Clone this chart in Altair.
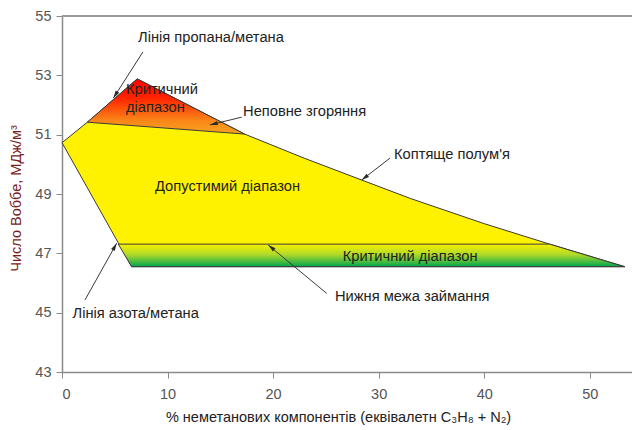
import math
import altair as alt
import pandas as pd

# ---- data ----
# region outlines: x = % non-methane components, y = Wobbe number (MJ/m3)
yellow_x = [0.0, 2.4, 7.13, 17.3, 23.0, 28.4, 33.0, 40.0, 46.2, 53.3, 6.6]
yellow_y = [50.73, 51.42, 52.88, 51.02, 50.2, 49.47, 48.85, 48.0, 47.31, 46.55, 46.55]
red_x = [2.4, 7.13, 17.3]
red_y = [51.42, 52.88, 51.02]
green_x = [5.33, 46.2, 53.3, 6.6]
green_y = [47.31, 47.31, 46.55, 46.55]

# annotation arrows (start -> tip)
arrow_x0 = [7.67, 17.02, 31.07, 25.08, 2.18]
arrow_y0 = [53.79, 51.59, 50.21, 45.65, 45.43]
arrow_x1 = [4.86, 14.02, 28.39, 19.54, 5.18]
arrow_y1 = [52.23, 51.33, 49.47, 47.28, 47.34]

# annotation labels
label_text = ["Лінія пропана/метана", "Критичний", "діапазон", "Неповне згоряння",
              "Коптяще полум'я", "Допустимий діапазон", "Критичний діапазон",
              "Нижня межа займання", "Лінія азота/метана"]
label_x = [7.2, 6.06, 6.06, 17.15, 31.45, 8.81, 26.59, 25.86, 1.0]
label_y = [54.26, 52.51, 51.9, 51.76, 50.31, 49.24, 46.89, 45.53, 44.96]

x_ticks = [0, 10, 20, 30, 40, 50]
y_ticks = [43, 45, 47, 49, 51, 53, 55]
x_domain = [0, 54]
y_domain = [43, 55]

W, H = 570, 356
FONT = "Liberation Sans"

x_enc = alt.X("x:Q", scale=alt.Scale(domain=x_domain, nice=False, zero=False),
              axis=alt.Axis(values=x_ticks, grid=False, tickSize=6, tickColor="#8a8a8a",
                            domainColor="#8a8a8a", domainWidth=1.5, labelColor="#555555",
                            labelFontSize=14.5, labelFont=FONT, labelPadding=9,
                            title="% неметанових компонентів (еквівалетн C₃H₈ + N₂)",
                            titleFont=FONT, titleFontSize=14.5, titleFontWeight="normal",
                            titleColor="#222222", titleX=276, titleY=45,
                            titleBaseline="middle", titleAlign="center"))
y_enc = alt.Y("y:Q", scale=alt.Scale(domain=y_domain, nice=False, zero=False),
              axis=alt.Axis(values=y_ticks, grid=False, tickSize=6, tickColor="#8a8a8a",
                            domainColor="#8a8a8a", domainWidth=1.5, labelColor="#555555",
                            labelFontSize=14.5, labelFont=FONT, labelPadding=5,
                            title="Число Воббе, МДж/м³", titleFont=FONT, titleFontSize=14.5,
                            titleFontWeight="normal", titleColor="#7a1c1c",
                            titleX=-46, titleY=182, titleAngle=-90,
                            titleBaseline="middle", titleAlign="center"))


def poly(xs, ys):
    return pd.DataFrame({"x": xs, "y": ys, "o": list(range(len(xs)))})


def grad(stops):
    return alt.Gradient(gradient="linear", x1=0, x2=0, y1=0, y2=1,
                        stops=[alt.GradientStop(color=c, offset=o) for o, c in stops])


yellow = alt.Chart(poly(yellow_x, yellow_y)).mark_line(
    interpolate="linear-closed", fill="#fff200", stroke="#3a3a3a", strokeWidth=1
).encode(x=x_enc, y=y_enc, order="o:Q")

red = alt.Chart(poly(red_x, red_y)).mark_line(
    interpolate="linear-closed",
    fill=grad([(0, "#ff0000"), (0.35, "#ff2400"), (0.75, "#f98518"), (1, "#f6a623")]),
    stroke="#3a3a3a", strokeWidth=1
).encode(x=x_enc, y=y_enc, order="o:Q")

green = alt.Chart(poly(green_x, green_y)).mark_line(
    interpolate="linear-closed",
    fill=grad([(0, "#f8f000"), (0.45, "#b2da28"), (1, "#00a651")]),
    stroke="#3a3a3a", strokeWidth=1
).encode(x=x_enc, y=y_enc, order="o:Q")

# top frame line
top_line = alt.Chart(pd.DataFrame({"y": [y_domain[1]]})).mark_rule(
    color="#9a9a9a", strokeWidth=2
).encode(y=alt.Y("y:Q"), x=alt.value(0), x2=alt.value(W))

# arrows
sx = W / (x_domain[1] - x_domain[0])
sy = H / (y_domain[1] - y_domain[0])
angles = [math.degrees(math.atan2((x1 - x0) * sx, (y1 - y0) * sy)) % 360
          for x0, y0, x1, y1 in zip(arrow_x0, arrow_y0, arrow_x1, arrow_y1)]
arrows_df = pd.DataFrame({"x": arrow_x0, "y": arrow_y0, "x2": arrow_x1, "y2": arrow_y1,
                          "angle": angles})

arrow_lines = alt.Chart(arrows_df).mark_rule(color="#3a3a3a", strokeWidth=1).encode(
    x=x_enc, y=y_enc, x2="x2:Q", y2="y2:Q")

arrow_heads = alt.Chart(arrows_df).mark_point(
    shape="M0,0L0.6,2.2L-0.6,2.2Z", filled=True, color="#2a2a2a", opacity=1, size=49
).encode(x=alt.X("x2:Q", scale=alt.Scale(domain=x_domain, nice=False, zero=False)),
         y=alt.Y("y2:Q", scale=alt.Scale(domain=y_domain, nice=False, zero=False)),
         angle=alt.Angle("angle:Q", scale=None))

labels_df = pd.DataFrame({"x": label_x, "y": label_y, "t": label_text})
labels = alt.Chart(labels_df).mark_text(
    align="left", baseline="middle", font=FONT, fontSize=14.7, color="#222222"
).encode(x=x_enc, y=y_enc, text="t:N")

chart = alt.layer(yellow, red, green, top_line, arrow_lines, arrow_heads, labels).properties(
    width=W, height=H,
    autosize=alt.AutoSizeParams(type="none"),
    padding={"left": 54, "top": 8, "right": 0, "bottom": 58},
).configure_view(stroke=None)

chart.save("out.html", embed_options={"renderer": "svg", "actions": False})
